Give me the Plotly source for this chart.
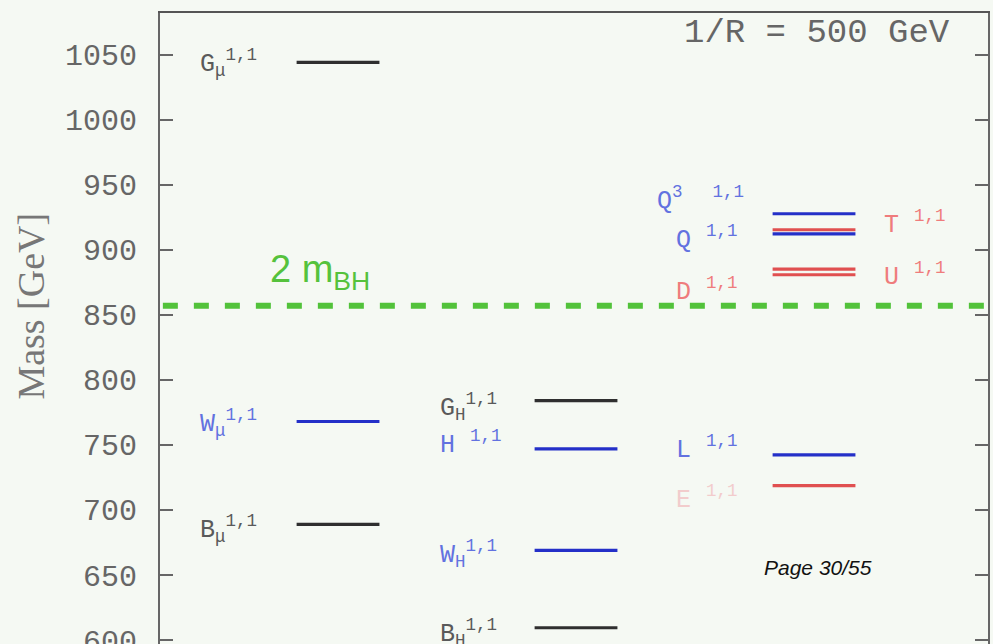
import plotly.graph_objects as go

# Kaluza-Klein (1,1) level spectrum for 1/R = 500 GeV
levels = ["G_mu", "W_mu", "B_mu", "G_H", "H", "W_H", "B_H",
          "Q3", "T", "Q", "U", "D", "L", "E"]
masses = [1044, 768, 689, 784, 747, 669, 609.5,
          927.7, 915.4, 912.3, 885.2, 880.8, 742.3, 718.7]
columns = [1, 1, 1, 2, 2, 2, 2, 3, 3, 3, 3, 3, 3, 3]
kinds = ["neutral", "weak", "neutral", "neutral", "weak", "weak", "neutral",
         "weak", "singlet", "weak", "singlet", "singlet", "weak", "singlet"]

threshold_label = "2 m<sub>BH</sub>"
threshold_mass = 857

y_ticks = [600, 650, 700, 750, 800, 850, 900, 950, 1000, 1050]
y_range = [597, 1082]
x_range = [0.252, 3.731]

line_colors = {"neutral": "#2f2f2f", "weak": "#2430c8", "singlet": "#e05050"}
label_colors = {"neutral": "#5a5a5a", "weak": "#6272e0", "singlet": "#ef7c7c",
                "faint": "#f2cccc"}

BG = "#f5f9f3"
MONO = "Liberation Mono"
half_width = 0.174

fig = go.Figure()

# one short horizontal segment per level
for name, m, c, k in zip(levels, masses, columns, kinds):
    fig.add_trace(go.Scatter(
        x=[c - half_width, c + half_width], y=[m, m], mode="lines",
        line=dict(color=line_colors[k], width=3.2),
        hoverinfo="skip", showlegend=False, name=name))

# pair-production threshold
fig.add_trace(go.Scatter(
    x=[x_range[0] + 0.012, x_range[1]], y=[threshold_mass, threshold_mass],
    mode="lines", line=dict(color="#52c23a", width=6, dash="15px,16px"),
    hoverinfo="skip", showlegend=False))

nb = "\u00a0"
# (text, column, x offset, label centre in GeV, colour key)
labels = [
    ("G<sub>μ</sub><sup>1,1</sup>", 1, -0.59, 1044, "neutral"),
    ("W<sub>μ</sub><sup>1,1</sup>", 1, -0.59, 768, "weak"),
    ("B<sub>μ</sub><sup>1,1</sup>", 1, -0.59, 686.5, "neutral"),
    ("G<sub>H</sub><sup>1,1</sup>", 2, -0.58, 780, "neutral"),
    ("H" + nb + "<sup>1,1</sup>", 2, -0.58, 752, "weak"),
    ("W<sub>H</sub><sup>1,1</sup>", 2, -0.58, 667, "weak"),
    ("B<sub>H</sub><sup>1,1</sup>", 2, -0.58, 606, "neutral"),
    ("Q<sup>3</sup>" + nb + nb + "<sup>1,1</sup>", 3, -0.67, 940, "weak"),
    ("Q" + nb + "<sup>1,1</sup>", 3, -0.59, 910, "weak"),
    ("D" + nb + "<sup>1,1</sup>", 3, -0.59, 870, "singlet"),
    ("L" + nb + "<sup>1,1</sup>", 3, -0.59, 748.5, "weak"),
    ("E" + nb + "<sup>1,1</sup>", 3, -0.59, 710, "faint"),
    ("T" + nb + "<sup>1,1</sup>", 3, 0.286, 921.5, "singlet"),
    ("U" + nb + "<sup>1,1</sup>", 3, 0.286, 881.5, "singlet"),
]

for text, c, dx, yv, k in labels:
    fig.add_annotation(
        x=c + dx, y=yv, xref="x", yref="y", text=text, showarrow=False,
        xanchor="left", yanchor="middle", yshift=-1,
        font=dict(family=MONO, size=25, color=label_colors[k]))

fig.add_annotation(
    x=1.0 - 0.295, y=883, xref="x", yref="y", text=threshold_label,
    showarrow=False, xanchor="left", yanchor="middle",
    font=dict(family="Liberation Sans", size=38, color="#55c23c"))

fig.add_annotation(
    x=3.58, y=1067, xref="x", yref="y", text="1/R = 500 GeV",
    showarrow=False, xanchor="right", yanchor="middle",
    font=dict(family=MONO, size=34, color="#666666"))

fig.add_annotation(
    x=-0.156, y=0.536, xref="paper", yref="paper", text="Mass [GeV]",
    textangle=-90, showarrow=False, xanchor="center", yanchor="middle",
    font=dict(family="Liberation Serif", size=38, color="#777777"))

fig.add_annotation(
    x=0.795, y=0.122, xref="paper", yref="paper", text="<i>Page 30/55</i>",
    showarrow=False, xanchor="center", yanchor="middle",
    font=dict(family="Liberation Sans", size=21, color="#111111"))

fig.update_layout(
    width=993, height=644,
    margin=dict(l=160, r=5, t=13, b=0),
    paper_bgcolor=BG, plot_bgcolor=BG,
    showlegend=False,
    xaxis=dict(range=x_range, side="top", showline=True, linecolor="#555555",
               linewidth=2, showticklabels=False, ticks="", showgrid=False,
               zeroline=False, fixedrange=True, automargin=False),
    yaxis=dict(range=y_range, tickvals=y_ticks, ticks="inside", ticklen=13,
               tickwidth=2, tickcolor="#666666", showline=True,
               linecolor="#666666", linewidth=2, mirror="ticks",
               showgrid=False, zeroline=False, ticklabelstandoff=15,
               ticklabeloverflow="allow", automargin=False,
               tickfont=dict(family=MONO, size=30, color="#666666")),
)

fig.write_html("out.html")
